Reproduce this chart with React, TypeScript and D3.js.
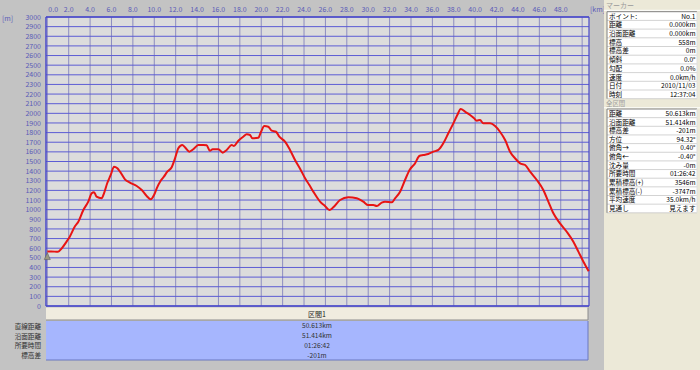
import React from "react";
import * as d3 from "d3";

const distKm = [0, 0.35, 1.0, 1.35, 1.8, 2.1, 2.6, 2.9, 3.37, 3.83, 4.15, 4.37, 4.6, 5.08, 5.3, 5.6, 5.93, 6.24, 6.55, 6.8, 7.26, 7.73, 8.36, 8.83, 9.29, 9.67, 9.98, 10.23, 10.6, 10.9, 11.22, 11.63, 11.94, 12.25, 12.62, 12.87, 13.28, 13.65, 14.12, 14.58, 14.9, 15.2, 15.46, 15.99, 16.4, 16.77, 17.24, 17.45, 17.86, 18.32, 18.64, 18.95, 19.17, 19.73, 19.98, 20.29, 20.66, 20.98, 21.38, 21.69, 22.22, 22.69, 23.16, 23.63, 24.1, 24.5, 24.87, 25.5, 25.96, 26.37, 26.74, 27.37, 28.14, 28.93, 29.54, 30.01, 30.48, 30.8, 31.26, 31.57, 32.2, 32.51, 32.98, 33.44, 33.91, 34.38, 34.78, 35.15, 35.62, 36.09, 36.56, 37.02, 37.49, 37.96, 38.33, 38.65, 39.05, 39.52, 39.9, 40.15, 40.46, 40.76, 41.39, 41.86, 42.32, 42.8, 43.26, 43.73, 44.2, 44.67, 45.13, 45.76, 46.37, 46.84, 47.31, 47.93, 48.56, 49.18, 49.65, 50.12, 50.613];
const elevM = [565, 567, 562, 599, 668, 720, 830, 875, 996, 1083, 1170, 1182, 1135, 1118, 1170, 1274, 1360, 1446, 1429, 1394, 1315, 1280, 1246, 1204, 1142, 1108, 1152, 1222, 1301, 1342, 1394, 1440, 1533, 1637, 1671, 1647, 1602, 1627, 1671, 1671, 1668, 1612, 1627, 1627, 1592, 1620, 1671, 1661, 1716, 1757, 1782, 1775, 1741, 1747, 1809, 1868, 1861, 1820, 1809, 1757, 1706, 1620, 1516, 1425, 1326, 1256, 1187, 1083, 1038, 996, 1024, 1100, 1128, 1118, 1083, 1048, 1048, 1038, 1073, 1083, 1076, 1118, 1187, 1308, 1419, 1481, 1557, 1567, 1578, 1602, 1620, 1689, 1793, 1896, 1983, 2045, 2017, 1983, 1948, 1924, 1931, 1896, 1896, 1868, 1809, 1723, 1602, 1533, 1481, 1464, 1394, 1308, 1204, 1083, 962, 858, 771, 668, 564, 460, 360];

const yTicks = d3.range(0, 3001, 100);
const xTicks = d3.range(0, 50.1, 2);
const xLabelTicks = d3.range(0, 48.1, 2);

const markerLabels = ["ポイント:", "距離", "沿面距離", "標高", "標高差", "傾斜", "勾配", "速度", "日付", "時刻"];
const markerValues = ["No.1", "0.000km", "0.000km", "558m", "0m", "0.0°", "0.0%", "0.0km/h", "2010/11/03", "12:37:04"];
const totalLabels = ["距離", "沿面距離", "標高差", "方位", "俯角→", "俯角←", "沈み量", "所要時間", "累積標高(+)", "累積標高(-)", "平均速度", "見通し"];
const totalValues = ["50.613km", "51.414km", "-201m", "94.32°", "0.40°", "-0.40°", "-0m", "01:26:42", "3546m", "-3747m", "35.0km/h", "見えます"];

const sectionName = "区間1";
const sectionLabels = ["直線距離", "沿面距離", "所要時間", "標高差"];
const sectionValues = ["50.613km", "51.414km", "01:26:42", "-201m"];

const FONT = "'Noto Sans CJK JP', 'DejaVu Sans', sans-serif";

export default function App() {
  const W = 700, H = 370;
  const px0 = 46, px1 = 589, py0 = 17, py1 = 306;
  const x = d3.scaleLinear().domain([0, 50.613]).range([47.3, 588.7]);
  const y = d3.scaleLinear().domain([0, 3000]).range([306, 17]);
  const pts: [number, number][] = distKm.map((d, i) => [d, elevM[i]]);
  const line = d3.line<[number, number]>().x(d => x(d[0])).y(d => y(d[1])).curve(d3.curveMonotoneX);

  const table = (top: number, rowH: number, labels: string[], values: string[]) => {
    const left = 607, right = 697;
    const h = rowH * labels.length;
    return (
      <g>
        <rect x={left} y={top} width={right - left} height={h} fill="#ffffff" stroke="none" />
        {labels.map((l, i) => (
          <g key={i}>
            <line x1={left} x2={right} y1={top + rowH * (i + 1)} y2={top + rowH * (i + 1)} stroke="#c8c8c8" strokeWidth={0.8} />
            <text x={left + 2} y={top + rowH * i + rowH - 1.8} fontSize={6.6} fill="#000">{l}</text>
            <text x={right - 1.5} y={top + rowH * i + rowH - 1.8} fontSize={6.6} fill="#000" textAnchor="end">{values[i]}</text>
          </g>
        ))}
        <line x1={left} x2={right} y1={top} y2={top} stroke="#808080" strokeWidth={1} />
        <line x1={left} x2={left} y1={top} y2={top + h} stroke="#808080" strokeWidth={1} />
        <line x1={right} x2={right} y1={top} y2={top + h} stroke="#e0e0e0" strokeWidth={1} />
      </g>
    );
  };

  return (
    <svg width={W} height={H} style={{ position: "fixed", left: 0, top: 0, fontFamily: FONT }}>
      <rect x={0} y={0} width={W} height={H} fill="#c3c3c3" />
      {/* plot area */}
      <rect x={px0} y={py0} width={px1 - px0} height={py1 - py0} fill="#dcdcdc" />
      {xTicks.map(t => (
        <line key={"vx" + t} x1={x(t)} x2={x(t)} y1={py0} y2={py1} stroke="#8c8cc0" strokeWidth={1} />
      ))}
      {yTicks.map(t => (
        <line key={"hy" + t} x1={px0} x2={px1} y1={y(t)} y2={y(t)} stroke="#5c5cd4" strokeWidth={1} />
      ))}
      <line x1={px0} x2={px1} y1={py0} y2={py0} stroke="#4848c8" strokeWidth={1.5} />
      <line x1={px0} x2={px0} y1={py0} y2={py1} stroke="#4848c8" strokeWidth={1.5} />
      <line x1={px1} x2={px1} y1={py0} y2={py1} stroke="#4848c8" strokeWidth={1.2} />
      <line x1={px0} x2={px1} y1={py1} y2={py1} stroke="#4848c8" strokeWidth={1.5} />
      {/* y labels */}
      {yTicks.map(t => (
        <text key={"yl" + t} x={41} y={y(t) + 2.6} fontSize={7} fill="#5a5ab8" textAnchor="end">{t}</text>
      ))}
      <text x={2} y={21} fontSize={7} fill="#5a5ab8">[m]</text>
      {/* x labels */}
      {xLabelTicks.map(t => (
        <text key={"xl" + t} x={t === 0 ? x(t) + 1 : x(t)} y={12} fontSize={7} fill="#5a5ab8" textAnchor={t === 0 ? "start" : "middle"}>{t.toFixed(1)}</text>
      ))}
      <text x={590} y={12} fontSize={7} fill="#5a5ab8">[km]</text>
      {/* profile */}
      <path d={line(pts) || ""} fill="none" stroke="#e81414" strokeWidth={2} strokeLinejoin="round" />
      {/* start marker */}
      <path d={`M${x(0)},${y(elevM[0]) + 1} L${x(0) - 3},${y(elevM[0]) + 8} L${x(0) + 3},${y(elevM[0]) + 8} Z`} fill="#9a9a80" stroke="#606060" strokeWidth={0.6} />
      {/* section bar */}
      <rect x={px0} y={307.5} width={542} height={12.5} fill="#f0ecdf" />
      <line x1={px0} x2={588} y1={320} y2={320} stroke="#8c8c8c" strokeWidth={1} />
      <line x1={588} x2={588} y1={307.5} y2={320} stroke="#8c8c8c" strokeWidth={1} />
      <text x={317} y={316.5} fontSize={7} fill="#202020" textAnchor="middle">{sectionName}</text>
      <rect x={px0} y={321} width={542} height={39} fill="#a6b6fe" />
      <line x1={px0} x2={588} y1={360} y2={360} stroke="#6a78c0" strokeWidth={1} />
      <line x1={588} x2={588} y1={321} y2={360} stroke="#6a78c0" strokeWidth={1} />
      {sectionLabels.map((l, i) => (
        <text key={"sl" + i} x={41} y={329 + i * 9.6} fontSize={6.6} fill="#303030" textAnchor="end">{l}</text>
      ))}
      {sectionValues.map((v, i) => (
        <text key={"sv" + i} x={317} y={328.3 + i * 10} fontSize={6.6} fill="#303030" textAnchor="middle">{v}</text>
      ))}
      {/* right panel */}
      <rect x={604} y={0} width={96} height={H} fill="#ece9d8" />
      <line x1={604} x2={700} y1={10.3} y2={10.3} stroke="#ffffff" strokeWidth={1} />
      <text x={606} y={8} fontSize={7} fill="#9a9a9a">マーカー</text>
      {table(11.7, 8.7, markerLabels, markerValues)}
      <line x1={604} x2={700} y1={107.8} y2={107.8} stroke="#ffffff" strokeWidth={1} />
      <text x={606} y={106.3} fontSize={6.4} fill="#9a9a9a">全区間</text>
      {table(109, 8.65, totalLabels, totalValues)}
    </svg>
  );
}
